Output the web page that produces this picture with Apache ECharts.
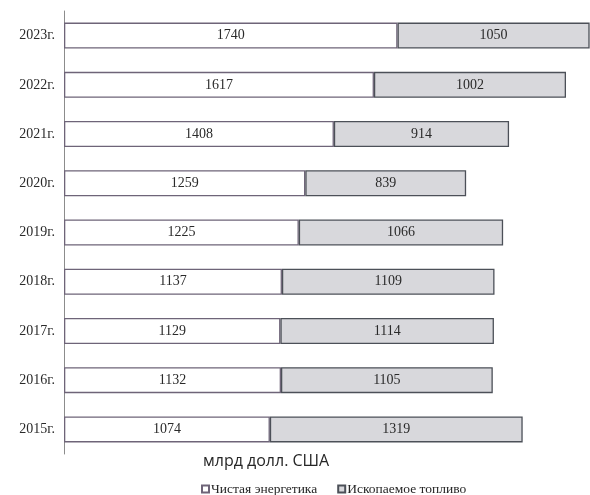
<!DOCTYPE html>
<html>
<head>
<meta charset="utf-8">
<script src="https://cdn.jsdelivr.net/npm/echarts@6/dist/echarts.min.js"></script>
<style>
  html, body { margin: 0; padding: 0; background: #fff; }
  #chart { width: 590px; height: 495px; }
</style>
</head>
<body>
<div id="chart"></div>
<script>
// Investment by year, billion USD (bottom to top)
const years = ['2015г.', '2016г.', '2017г.', '2018г.', '2019г.', '2020г.', '2021г.', '2022г.', '2023г.'];
const cleanEnergy = [1074, 1132, 1129, 1137, 1225, 1259, 1408, 1617, 1740];
const fossilFuel = [1319, 1105, 1114, 1109, 1066, 839, 914, 1002, 1050];
const seriesNames = ['Чистая энергетика', 'Ископаемое топливо'];
const unitTitle = 'млрд долл. США';

const serif = '"Liberation Serif", "DejaVu Serif", serif';

const labelStyle = {
  show: true,
  position: 'inside',
  color: '#2a2a2a',
  fontFamily: serif,
  fontSize: 14
};

const chart = echarts.init(document.getElementById('chart'));
chart.setOption({
  animation: false,
  backgroundColor: '#ffffff',
  title: {
    text: unitTitle,
    left: 198,
    top: 448,
    textStyle: {
      fontFamily: '"Open Sans", "Liberation Sans", sans-serif',
      fontWeight: 'normal',
      fontSize: 16,
      color: '#262626'
    }
  },
  legend: {
    left: 196,
    top: 477,
    itemWidth: 7,
    itemHeight: 7,
    itemGap: 20,
    icon: 'rect',
    textStyle: {
      fontFamily: serif,
      fontSize: 13.5,
      color: '#262626',
      padding: [0, 0, 0, -3]
    },
    data: seriesNames
  },
  grid: {
    left: 64,
    width: 525,
    top: 11,
    height: 443
  },
  xAxis: {
    type: 'value',
    min: 0,
    max: 2739,
    axisLine: { show: false },
    axisTick: { show: false },
    axisLabel: { show: false },
    splitLine: { show: false }
  },
  yAxis: {
    type: 'category',
    data: years,
    axisLine: { show: true, lineStyle: { color: '#8c8c8c', width: 1 } },
    axisTick: { show: false },
    axisLabel: {
      color: '#2a2a2a',
      fontFamily: serif,
      fontSize: 14,
      margin: 9
    }
  },
  series: [
    {
      name: seriesNames[0],
      type: 'bar',
      stack: 'total',
      barWidth: 26,
      data: cleanEnergy,
      itemStyle: { color: '#ffffff', borderColor: '#6e6478', borderWidth: 1.3 },
      label: labelStyle
    },
    {
      name: seriesNames[1],
      type: 'bar',
      stack: 'total',
      barWidth: 26,
      data: fossilFuel,
      itemStyle: { color: '#d8d8dc', borderColor: '#4c5058', borderWidth: 1.3 },
      label: labelStyle
    }
  ]
});
</script>
</body>
</html>
